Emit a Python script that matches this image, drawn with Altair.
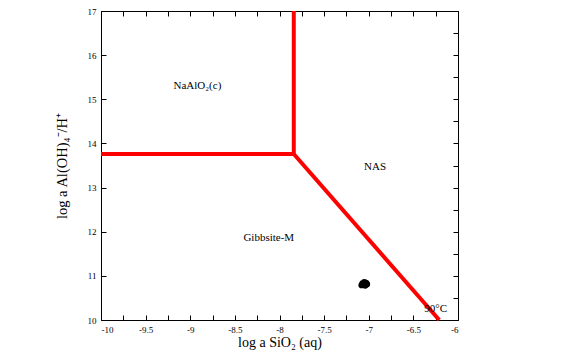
import altair as alt
import pandas as pd

# Phase boundaries (three segments meeting at a triple point)
seg_id = ["a", "a", "b", "b", "c", "c"]
seg_x = [-10.0, -7.84, -7.84, -7.84, -7.84, -6.21]
seg_y = [13.76, 13.76, 13.76, 17.0, 13.76, 10.0]

# Cluster of sample points
blob_x = [-7.06, -7.03, -7.08, -7.04, -7.02, -7.05, -7.07]
blob_y = [10.82, 10.84, 10.79, 10.78, 10.81, 10.86, 10.83]

# Field labels
label_text = ["NaAlO\u2082(c)", "NAS", "Gibbsite-M", "90\u00b0C"]
label_x = [-8.92, -6.93, -8.12, -6.25]
label_y = [15.31, 13.46, 11.85, 10.25]

x_ticks = [-10 + 0.25 * i for i in range(17)]
y_ticks = [10 + 0.5 * i for i in range(15)]

seg_df = pd.DataFrame({"seg": seg_id, "x": seg_x, "y": seg_y})
blob_df = pd.DataFrame({"x": blob_x, "y": blob_y})
lab_df = pd.DataFrame({"t": label_text, "x": label_x, "y": label_y})

FONT = "Liberation Serif"
xs = alt.Scale(domain=[-10, -6], nice=False, zero=False)
ys = alt.Scale(domain=[10, 17], nice=False, zero=False)
inward = {"expr": "-5"}

x_label_expr = "abs(round(datum.value*4))%2==0 ? replace(datum.label,'\u2212','-') : ''"
y_label_expr = "round(datum.value*2)%2==0 ? datum.label : ''"

common = dict(tickSize=inward, domain=True, domainColor="black", domainWidth=1,
              grid=False, tickColor="black", tickWidth=1)

lines = alt.Chart(seg_df).mark_line(color="#ff0000", strokeWidth=4, strokeCap="butt").encode(
    x=alt.X("x:Q", scale=xs, title="log a SiO\u2082 (aq)",
            axis=alt.Axis(orient="bottom", values=x_ticks, format=".2~f", labelExpr=x_label_expr,
                          labelPadding=10, labelFont=FONT, labelFontSize=9,
                          titleFont=FONT, titleFontSize=14, titleFontWeight="normal",
                          titlePadding=1, labelColor="black", titleColor="black", **common)),
    y=alt.Y("y:Q", scale=ys, title="log a Al(OH)\u2084\u207b/H\u207a",
            axis=alt.Axis(orient="left", values=y_ticks, format="d", labelExpr=y_label_expr,
                          labelPadding=10, labelFont=FONT, labelFontSize=9,
                          titleFont=FONT, titleFontSize=14.5, titleFontWeight="normal",
                          titlePadding=18, labelColor="black", titleColor="black", **common)),
    detail="seg:N",
)

texts = alt.Chart(lab_df).mark_text(font=FONT, fontSize=11, color="black", align="center",
                                    baseline="middle").encode(
    x=alt.X("x:Q", scale=xs,
            axis=alt.Axis(orient="top", values=x_ticks, labels=False, title=None, **common)),
    y=alt.Y("y:Q", scale=ys,
            axis=alt.Axis(orient="right", values=y_ticks, labels=False, title=None, **common)),
    text="t:N",
)

blob = alt.Chart(blob_df).mark_point(filled=True, color="black", size=40, opacity=1).encode(
    x=alt.X("x:Q", scale=xs, axis=None),
    y=alt.Y("y:Q", scale=ys, axis=None),
)

chart = alt.layer(lines, texts, blob).resolve_scale(
    x="independent", y="independent"
).properties(
    width=357, height=309,
    autosize=alt.AutoSizeParams(type="none"),
    padding={"left": 93, "top": 3, "right": 100, "bottom": 35},
    background="white",
).configure_view(strokeWidth=0)

chart.save("out.html", embed_options={"renderer": "svg", "actions": False})
